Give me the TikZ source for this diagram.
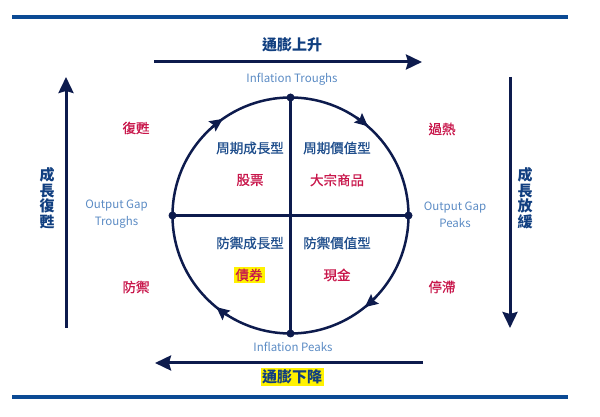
\documentclass[tikz,border=0pt]{standalone}
\usepackage{fontspec}
\setmainfont{Noto Sans CJK TC}
\newfontfamily\medfont{Noto Sans CJK TC}[FakeBold=0.8]
\usetikzlibrary{arrows.meta}
\definecolor{topblue}{HTML}{0B4A94}
\definecolor{navy}{HTML}{0D1B4D}
\definecolor{titleblue}{HTML}{113F80}
\definecolor{quadblue}{HTML}{1F4E8C}
\definecolor{lightblue}{HTML}{5B8BC4}
\definecolor{crim}{HTML}{C8174B}
\definecolor{hl}{HTML}{FFF200}
\begin{document}
\begin{tikzpicture}[x=1pt,y=1pt,
  rule/.style={topblue, line width=4.5pt},
  bigarrow/.style={navy, line width=3pt, -{Stealth[length=16pt,width=15pt,inset=2pt]}},
  cycarrow/.style={navy, line width=2.5pt, -{Stealth[length=13pt,width=12pt,inset=2pt]}},
  ttl/.style={titleblue, inner sep=1pt, font=\bfseries\fontsize{15}{15.5}\selectfont, align=center},
  qtitle/.style={quadblue, inner sep=1pt, font=\medfont\fontsize{13.5}{14}\selectfont},
  asset/.style={crim, inner sep=1pt, font=\medfont\fontsize{13.5}{14}\selectfont},
  gap/.style={lightblue, inner sep=1pt, font=\fontsize{11.5}{17}\selectfont, align=center},
  hilite/.style={fill=hl}
]
\useasboundingbox (0,0) rectangle (600,417);
% rules
\coordinate (rt1) at (12,400); \coordinate (rt2) at (568,400);
\coordinate (rb1) at (12,20);  \coordinate (rb2) at (568,20);
\draw[rule] (rt1) -- (rt2);
\draw[rule] (rb1) -- (rb2);
% big arrows
\coordinate (ta1) at (154,355); \coordinate (ta2) at (422,355);
\coordinate (ba1) at (423,54);  \coordinate (ba2) at (155,54);
\coordinate (la1) at (66,89);   \coordinate (la2) at (66,340);
\coordinate (ra1) at (510,340); \coordinate (ra2) at (510,89);
\draw[bigarrow] (ta1) -- (ta2);
\draw[bigarrow] (ba1) -- (ba2);
\draw[bigarrow] (la1) -- (la2);
\draw[bigarrow] (ra1) -- (ra2);
% titles
\node[ttl] (up) at (292,372) {通膨上升};
\node[ttl, hilite, inner sep=1.5pt] (down) at (292,40) {通膨下降};
\node[ttl] (grow) at (47,219) {成\\長\\復\\甦};
\node[ttl] (slow) at (525,219) {成\\長\\放\\緩};
% gap labels
\node[gap] (itr) at (292,338) {Inflation Troughs};
\node[gap] (ipk) at (293,70) {Inflation Peaks};
\node[gap] (ogt) at (116.5,202.5) {Output Gap\\Troughs};
\node[gap] (ogp) at (455,202.5) {Output Gap\\Peaks};
% phases
\node[asset] (rec) at (136,289) {復甦};
\node[asset] (ovh) at (442,288) {過熱};
\node[asset] (def) at (136,130) {防禦};
\node[asset] (stg) at (442,130) {停滯};
% cycle
\node[circle, draw=navy, line width=2.5pt, minimum size=236pt, inner sep=0pt, outer sep=0pt] (cyc) at (290.5,201.5) {};
\draw[navy, line width=2.5pt] (cyc.north) -- (cyc.south);
\draw[navy, line width=2.5pt] (cyc.west) -- (cyc.east);
\foreach \a in {north,south,east,west} \fill[navy] (cyc.\a) circle (4pt);
\draw[cycarrow] (cyc.132) arc[start angle=132, end angle=125, radius=118pt];
\draw[cycarrow] (cyc.56.5) arc[start angle=56.5, end angle=49.5, radius=118pt];
\draw[cycarrow] (cyc.-44) arc[start angle=-44, end angle=-51, radius=118pt];
\draw[cycarrow] (cyc.-122.5) arc[start angle=-122.5, end angle=-129.5, radius=118pt];
% quadrants
\node[qtitle] (q1) at (250,269) {周期成長型};
\node[qtitle] (q2) at (337,269) {周期價值型};
\node[qtitle] (q3) at (250,174) {防禦成長型};
\node[qtitle] (q4) at (337,174) {防禦價值型};
\node[asset] (a1) at (250,237) {股票};
\node[asset] (a2) at (337,237) {大宗商品};
\node[asset, hilite, inner sep=2pt] (a3) at (249,142) {債券};
\node[asset] (a4) at (337,142) {現金};
\end{tikzpicture}
\end{document}
